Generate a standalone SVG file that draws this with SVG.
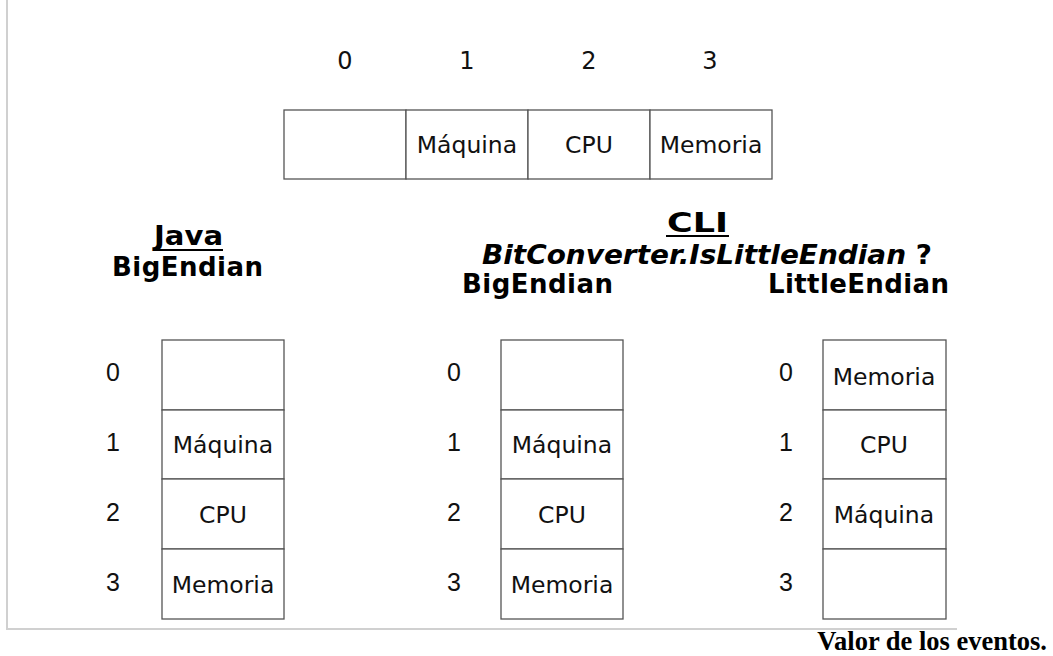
<svg xmlns="http://www.w3.org/2000/svg" width="1053" height="656" viewBox="0 0 1053 656">
<style>
.cell{fill:#fff;stroke:#555;stroke-width:1.3}
.lbl{font-family:"DejaVu Sans",Verdana,sans-serif;font-size:23.5px;fill:#111;text-anchor:middle}
.top{font-family:"DejaVu Sans",Verdana,sans-serif;font-size:24px;fill:#111;text-anchor:middle}
.idx{font-family:"Liberation Sans",Arial,sans-serif;font-size:25px;fill:#111;text-anchor:middle}
.hdr{font-family:"DejaVu Sans",Verdana,sans-serif;font-size:26px;font-weight:bold;fill:#000}
.frame{stroke:#d0d0d0;stroke-width:2;fill:none}
</style>
<rect width="1053" height="656" fill="#fff"/>
<path class="frame" d="M7,0 V629 H957"/>

<g id="top-indices">
<text class="top" x="345" y="69">0</text>
<text class="top" x="467" y="69">1</text>
<text class="top" x="589" y="69">2</text>
<text class="top" x="710" y="69">3</text>
</g>
<g id="top-array">
<rect class="cell" x="284" y="110" width="122" height="69"/>
<rect class="cell" x="406" y="110" width="122" height="69"/>
<text class="lbl" x="467" y="153">Máquina</text>
<rect class="cell" x="528" y="110" width="122" height="69"/>
<text class="lbl" x="589" y="153">CPU</text>
<rect class="cell" x="650" y="110" width="122" height="69"/>
<text class="lbl" x="711" y="153">Memoria</text>
</g>

<g id="java-header">
<text class="hdr" x="154" y="245" textLength="69" lengthAdjust="spacingAndGlyphs">Java</text>
<line x1="153" y1="250" x2="223" y2="250" stroke="#000" stroke-width="2"/>
<text class="hdr" x="112" y="276" textLength="151" lengthAdjust="spacing">BigEndian</text>
</g>

<g id="cli-header">
<text class="hdr" x="667" y="232" textLength="61" lengthAdjust="spacingAndGlyphs">CLI</text>
<line x1="666" y1="236" x2="729" y2="236" stroke="#000" stroke-width="2"/>
<text class="hdr" x="482" y="264" textLength="450" lengthAdjust="spacingAndGlyphs"><tspan font-style="italic">BitConverter.IsLittleEndian</tspan> ?</text>
<text class="hdr" x="462" y="293" textLength="151" lengthAdjust="spacing">BigEndian</text>
<text class="hdr" x="768" y="293" textLength="181" lengthAdjust="spacing">LittleEndian</text>
</g>

<g id="java-column">
<text class="idx" x="113" y="381">0</text>
<text class="idx" x="113" y="451">1</text>
<text class="idx" x="113" y="521">2</text>
<text class="idx" x="113" y="591">3</text>
<rect class="cell" x="162" y="340" width="122" height="70"/>
<rect class="cell" x="162" y="410" width="122" height="69"/>
<text class="lbl" x="223" y="453">Máquina</text>
<rect class="cell" x="162" y="479" width="122" height="70"/>
<text class="lbl" x="223" y="523">CPU</text>
<rect class="cell" x="162" y="549" width="122" height="70"/>
<text class="lbl" x="223" y="593">Memoria</text>
</g>

<g id="cli-big-column">
<text class="idx" x="454" y="381">0</text>
<text class="idx" x="454" y="451">1</text>
<text class="idx" x="454" y="521">2</text>
<text class="idx" x="454" y="591">3</text>
<rect class="cell" x="501" y="340" width="122" height="70"/>
<rect class="cell" x="501" y="410" width="122" height="69"/>
<text class="lbl" x="562" y="453">Máquina</text>
<rect class="cell" x="501" y="479" width="122" height="70"/>
<text class="lbl" x="562" y="523">CPU</text>
<rect class="cell" x="501" y="549" width="122" height="70"/>
<text class="lbl" x="562" y="593">Memoria</text>
</g>

<g id="cli-little-column">
<text class="idx" x="786" y="381">0</text>
<text class="idx" x="786" y="451">1</text>
<text class="idx" x="786" y="521">2</text>
<text class="idx" x="786" y="591">3</text>
<rect class="cell" x="823" y="340" width="123" height="70"/>
<text class="lbl" x="884" y="385">Memoria</text>
<rect class="cell" x="823" y="410" width="123" height="69"/>
<text class="lbl" x="884" y="453">CPU</text>
<rect class="cell" x="823" y="479" width="123" height="70"/>
<text class="lbl" x="884" y="523">Máquina</text>
<rect class="cell" x="823" y="549" width="123" height="70"/>
</g>

<g id="connectors"></g>

<text x="1047" y="650" text-anchor="end" font-family="'Liberation Serif','Times New Roman',serif" font-weight="bold" font-size="26.5px" fill="#000">Valor de los eventos.</text>
</svg>
